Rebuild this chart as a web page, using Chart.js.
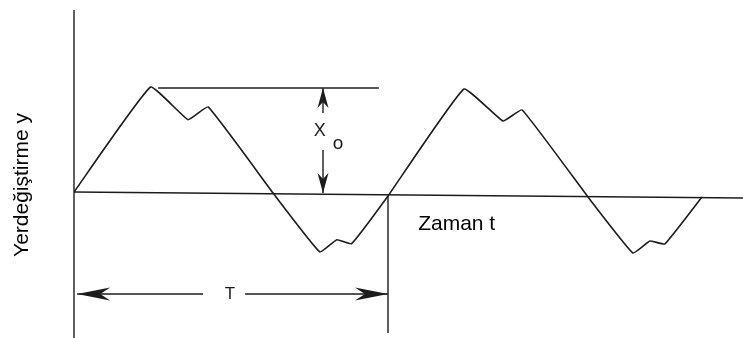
<!DOCTYPE html>
<html>
<head>
<meta charset="utf-8">
<script src="https://cdn.jsdelivr.net/npm/chart.js@4/dist/chart.umd.min.js"></script>
<style>
  html, body { margin: 0; padding: 0; background: #fff; }
  #wrap { width: 743px; height: 338px; }
</style>
</head>
<body>
<div id="wrap"><canvas id="wave"></canvas></div>
<script>
// time in periods (t/T), displacement in amplitudes (y/X0)
const waveT = [0, 0.244, 0.363, 0.427, 0.634, 0.783, 0.837, 0.884, 1.0,
               1.242, 1.366, 1.427, 1.637, 1.780, 1.834, 1.882, 2.0];
const waveY = [0, 1.0, 0.689, 0.81, -0.01, -0.571, -0.454, -0.492, -0.038,
               0.981, 0.676, 0.781, -0.048, -0.581, -0.467, -0.495, -0.048];

const yLabel = 'Yerdeğiştirme y';
const xLabel = 'Zaman t';
const periodLabel = 'T';
const ampLabel = ['X', 'o'];

const INK = '#1c1c1c';
const FONT = '"Liberation Sans", Arial, sans-serif';

// arrowhead with swept back, tip at (x, y), pointing along angle
function arrowHead(ctx, x, y, angle, len, wid) {
    ctx.save();
    ctx.translate(x, y);
    ctx.rotate(angle);
    ctx.beginPath();
    ctx.moveTo(0, 0);
    ctx.lineTo(-len, -wid / 2);
    ctx.lineTo(-len * 0.7, 0);
    ctx.lineTo(-len, wid / 2);
    ctx.closePath();
    ctx.fill();
    ctx.restore();
}

function line(ctx, x1, y1, x2, y2) {
    ctx.beginPath();
    ctx.moveTo(x1, y1);
    ctx.lineTo(x2, y2);
    ctx.stroke();
}

// axes, guide lines, arrows and labels
const sketchPlugin = {
    id: 'sketch',
    beforeDatasetsDraw(chart) {
        const ctx = chart.ctx;
        const xs = chart.scales.x, ys = chart.scales.y;
        const px = v => xs.getPixelForValue(v);
        const py = v => ys.getPixelForValue(v);
        ctx.save();
        ctx.strokeStyle = INK;
        ctx.fillStyle = INK;
        ctx.lineWidth = 1.4;

        // vertical axis and baseline
        line(ctx, px(0), py(1.733), px(0), py(ys.min));
        line(ctx, px(0), py(0), px(xs.max), py(-0.057));

        // amplitude guide and arrow
        line(ctx, px(0.268), py(0.99), px(0.971), py(0.99));
        const ax = px(0.793);
        line(ctx, ax, py(0.99), ax, py(0.752));
        line(ctx, ax, py(0.40), ax, py(-0.01));
        arrowHead(ctx, ax, py(0.99), -Math.PI / 2, 20, 11);
        arrowHead(ctx, ax, py(-0.01), Math.PI / 2, 20, 11);

        // period marker
        line(ctx, px(1), py(-0.038), px(1), py(-1.343));
        const ty = py(-0.971);
        line(ctx, px(0.01), ty, px(0.411), ty);
        line(ctx, px(0.545), ty, px(1), ty);
        arrowHead(ctx, px(0.01), ty, Math.PI, 33, 13);
        arrowHead(ctx, px(1), ty, 0, 33, 13);

        // labels
        ctx.textBaseline = 'middle';
        ctx.textAlign = 'center';
        ctx.font = '17px ' + FONT;
        ctx.fillText(periodLabel, px(0.497), ty);
        ctx.font = '18px ' + FONT;
        ctx.fillText(ampLabel[0], px(0.783), py(0.581));
        ctx.font = '19px ' + FONT;
        ctx.fillText(ampLabel[1], px(0.841), py(0.457));

        ctx.fillStyle = '#000';
        ctx.font = '21px ' + FONT;
        ctx.textAlign = 'left';
        ctx.textBaseline = 'alphabetic';
        ctx.fillText(xLabel, px(1.096), py(-0.362));

        ctx.save();
        ctx.translate(px(-0.166), py(0.067));
        ctx.rotate(-Math.PI / 2);
        ctx.textAlign = 'center';
        ctx.textBaseline = 'middle';
        ctx.fillText(yLabel, 0, 0);
        ctx.restore();

        ctx.restore();
    }
};

new Chart(document.getElementById('wave'), {
    type: 'scatter',
    data: {
        datasets: [{
            data: waveT.map((t, i) => ({ x: t, y: waveY[i] })),
            showLine: true,
            borderColor: INK,
            borderWidth: 1.6,
            borderJoinStyle: 'round',
            pointRadius: 0,
            tension: 0.1
        }]
    },
    options: {
        responsive: true,
        maintainAspectRatio: false,
        animation: false,
        layout: { padding: { left: 74, right: 0, top: 0, bottom: 0 } },
        plugins: { legend: { display: false }, tooltip: { enabled: false } },
        scales: {
            x: { type: 'linear', display: false, min: 0, max: 669 / 314 },
            y: { type: 'linear', display: false, min: -146 / 105, max: 192 / 105 }
        }
    },
    plugins: [sketchPlugin]
});
</script>
</body>
</html>
